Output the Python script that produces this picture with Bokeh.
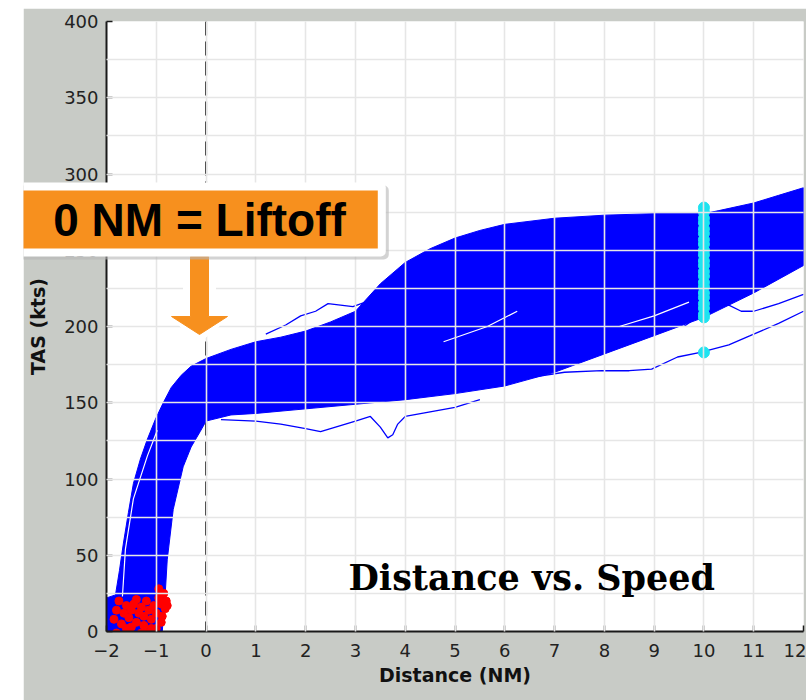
from bokeh.plotting import figure
from bokeh.models import (Span, Label, SingleIntervalTicker, Spacer, Range1d, GridBox)
from bokeh.layouts import row, column
from bokeh.embed import file_html
from bokeh.resources import INLINE

# ---------------- data ----------------
# envelope of the dense bundle of departure trajectories (Distance NM, TAS kts)
band_upper_dist = [-2.0, -1.82, -1.74, -1.66, -1.56, -1.46, -1.32, -1.18, -1.02, -0.86, -0.7, -0.5,
                   -0.3, 0.0, 0.5, 1.0, 1.5, 2.0, 2.5, 3.0, 3.5, 4.0, 4.5, 5.0, 5.5, 6.0, 7.0, 8.0,
                   9.0, 10.0, 10.3, 11.0, 11.5, 12.0]
band_upper_tas = [22, 24, 40, 58, 78, 97, 113, 126, 139, 150, 160, 168,
                  174, 179, 185, 190, 193, 197, 203, 210, 228, 242, 251, 258, 263, 267, 271, 273,
                  274, 274, 276, 281, 286, 291]
band_lower_dist = [-2.0, -0.88, -0.82, -0.78, -0.66, -0.46, -0.3, -0.12, 0.0, 0.5, 1.0, 2.0, 3.0,
                   4.0, 5.0, 6.0, 7.0, 8.0, 9.0, 10.0, 11.0, 12.0]
band_lower_tas = [0, 0, 25, 47, 80, 108, 121, 131, 138, 142, 143, 146, 149,
                  152, 156, 161, 170, 182, 194, 206, 222, 240]

# individual trajectories outside the bundle
traj_a_dist = [6.0, 6.6, 7.2, 7.95, 8.5, 8.95, 9.47, 9.93, 10.5, 10.93, 11.5, 12.0]
traj_a_tas = [163, 167, 170, 171, 171, 172, 180, 183, 188, 194, 202, 210]
traj_b_dist = [9.6, 10.1, 10.5, 10.75, 11.0, 11.5, 12.0]
traj_b_tas = [200, 212, 214, 210, 210, 215, 221]
traj_c_dist = [0.3, 1.0, 1.5, 2.0, 2.3, 2.6, 3.0, 3.3, 3.5, 3.65, 3.75, 3.85, 4.0, 4.5, 5.0, 5.5]
traj_c_tas = [139, 138, 136, 133, 131, 134, 138, 141, 134, 127, 129, 136, 141, 144, 147, 152]
traj_d_dist = [1.2, 1.6, 1.9, 2.2, 2.45, 2.7, 2.95, 3.2]
traj_d_tas = [195, 201, 207, 210, 215, 214, 213, 216]

# visible gaps inside the bundle
gap_1_dist = [4.77, 5.65, 6.25]
gap_1_tas = [190, 200, 210]
gap_2_dist = [8.3, 9.0, 9.7]
gap_2_tas = [200, 207, 216]
gap_3_dist = [-1.68, -1.62, -1.46, -1.18, -0.98]
gap_3_tas = [23, 54, 87, 115, 132]

# start-of-roll points (red)
roll_dist = [-1.85, -1.8, -1.75, -1.7, -1.65, -1.6, -1.55, -1.5, -1.45, -1.4, -1.35, -1.3,
             -1.25, -1.2, -1.15, -1.1, -1.05, -1.0, -0.95, -0.9, -0.88, -0.85, -0.82, -0.8,
             -0.78, -1.3, -1.2, -1.8, -1.0, -1.1, -1.5, -0.9, -1.4, -1.6, -1.25, -0.95]
roll_tas = [8, 14, 20, 5, 12, 17, 9, 14, 18, 6, 12, 16,
            10, 20, 14, 8, 17, 12, 22, 18, 10, 25, 15, 20,
            17, -1, -1, -1, 2, 2, 3, 6, 21, 2, 4, 28]

# speeds at the 10 NM check point (cyan)
check_dist = [10] * 23
check_tas = [278, 275, 271, 268, 264, 261, 257, 254, 250, 247, 243, 240, 236,
             233, 229, 226, 222, 219, 215, 212, 208, 206, 183]

x_tick_step = 1
y_tick_step = 50
y_grid_step = 25

# ---------------- layout ----------------
PAGE_LEFT, PAGE_TOP = 23, 8          # white strip left / above the gray panel
FIG_W, FIG_H = 783, 692
LEFT, RIGHT, TOP, BOTTOM = 83, 3, 13, 69
X0, X1 = -2.0, 12.0
FRAME_W = FIG_W - LEFT - RIGHT
FRAME_H = FIG_H - TOP - BOTTOM
PAGE_FRAME_LEFT = PAGE_LEFT + LEFT
PAGE_FRAME_BOTTOM = PAGE_TOP + TOP + FRAME_H


def px_x(px):
    return X0 + (px - PAGE_FRAME_LEFT) * (X1 - X0) / FRAME_W


def px_y(py):
    return (PAGE_FRAME_BOTTOM - py) * 400.0 / FRAME_H


GRAY = "#c8cbc6"
BLUE = "#0000ff"
ORANGE = "#f7901e"

p = figure(width=FIG_W, height=FIG_H, x_range=(X0, X1), y_range=(0, 400),
           output_backend="svg", toolbar_location=None,
           background_fill_color="white", border_fill_color=GRAY,
           outline_line_color=None,
           min_border_left=LEFT, min_border_right=RIGHT,
           min_border_top=TOP, min_border_bottom=BOTTOM)

# zero-distance (liftoff) reference line, under data
p.add_layout(Span(location=0, dimension="height", line_color="black",
                  line_dash="14 6", line_width=2, level="underlay"))

# bundle
p.patch(band_upper_dist + band_lower_dist[::-1], band_upper_tas + band_lower_tas[::-1],
        fill_color=BLUE, line_color=BLUE, line_width=1)
for xs, ys in [(traj_a_dist, traj_a_tas), (traj_b_dist, traj_b_tas),
               (traj_c_dist, traj_c_tas), (traj_d_dist, traj_d_tas)]:
    p.line(xs, ys, line_color=BLUE, line_width=1.3)
for xs, ys in [(gap_1_dist, gap_1_tas), (gap_2_dist, gap_2_tas), (gap_3_dist, gap_3_tas)]:
    p.line(xs, ys, line_color="white", line_width=1.2)

p.scatter(roll_dist, roll_tas, marker="circle", size=8, fill_color="#ff0000", line_color="#ff0000")
p.scatter(check_dist, check_tas, marker="circle", size=11, fill_color="#1ee3f0", line_color="#1ee3f0")

# axes / grid
p.xaxis.ticker = SingleIntervalTicker(interval=x_tick_step)
p.yaxis.ticker = SingleIntervalTicker(interval=y_tick_step)
p.xgrid.ticker = SingleIntervalTicker(interval=x_tick_step)
p.ygrid.ticker = SingleIntervalTicker(interval=y_grid_step)
for g in (p.xgrid, p.ygrid):
    g.grid_line_color = "#e6e6e6"
    g.grid_line_width = 1.6
    g.level = "annotation"

for ax in (p.xaxis, p.yaxis):
    ax.axis_line_color = "#1a1a1a"
    ax.axis_line_width = 2
    ax.major_tick_in = 6
    ax.major_tick_out = 0
    ax.major_tick_line_color = "#1a1a1a"
    ax.major_tick_line_width = 1.5
    ax.minor_tick_in = 0
    ax.minor_tick_out = 0
    ax.major_label_text_font = "DejaVu Sans"
    ax.major_label_text_font_size = "18px"
    ax.major_label_text_color = "#222222"
    ax.axis_label_text_font = "DejaVu Sans"
    ax.axis_label_text_font_size = "19px"
    ax.axis_label_text_font_style = "bold"
    ax.axis_label_text_color = "#111111"

p.xaxis.axis_label = "Distance (NM)"
p.yaxis.axis_label = "TAS (kts)"
p.xaxis.major_label_standoff = 12
p.yaxis.major_label_standoff = 8
p.xaxis.axis_label_standoff = 4
p.yaxis.axis_label_standoff = 12

p.add_layout(Label(x=px_x(348), y=px_y(577), text="Distance vs. Speed",
                   text_align="left", text_baseline="alphabetic",
                   text_font="DejaVu Serif", text_font_size="35px", text_font_style="bold",
                   text_color="black", level="overlay"))

# ---------------- callout: transparent overlay figure in pixel coordinates ----------------
ov = figure(width=FIG_W, height=FIG_H, x_range=Range1d(0, FIG_W), y_range=Range1d(FIG_H, 0),
            output_backend="svg", toolbar_location=None,
            x_axis_type=None, y_axis_type=None,
            min_border=0, min_border_left=0, min_border_right=0,
            min_border_top=0, min_border_bottom=0,
            background_fill_alpha=0, border_fill_alpha=0, outline_line_color=None)
ov.grid.visible = False


def ox(px):
    return px - PAGE_LEFT


def oy(py):
    return py - PAGE_TOP


BOX_CX, BOX_CY = 199, 219
CALLOUT = "0 NM = Liftoff"
common = dict(text=CALLOUT, text_align="center", text_baseline="middle",
              text_font="Liberation Sans", text_font_size="46px", text_font_style="bold")
ov.add_layout(Label(x=ox(BOX_CX + 3), y=oy(BOX_CY + 3), text_color="#b5b5b5",
                    background_fill_color="#b5b5b5", background_fill_alpha=0.6,
                    padding=dict(left=40, right=40, top=11, bottom=11), border_radius=5, **common))
ov.add_layout(Label(x=ox(BOX_CX), y=oy(BOX_CY), text_color="white",
                    background_fill_color="white",
                    padding=dict(left=40, right=40, top=11, bottom=11), border_radius=5, **common))
ov.add_layout(Label(x=ox(BOX_CX), y=oy(BOX_CY), text_color="black",
                    background_fill_color=ORANGE,
                    padding=dict(left=32, right=32, top=3, bottom=3), **common))

arrow_white_px = [(183, 256), (215, 256), (215, 310), (237, 310), (199, 342), (161, 310), (183, 310)]
arrow_orange_px = [(190, 256), (208, 256), (208, 316), (227, 316), (199, 334), (171, 316), (190, 316)]
for pts, col in [(arrow_white_px, "white"), (arrow_orange_px, ORANGE)]:
    ov.patch([ox(a) for a, b in pts], [oy(b) for a, b in pts],
             fill_color=col, line_color=col, line_width=1)

stack = GridBox(children=[(column(p), 0, 0), (column(ov), 0, 0)])
layout = column(Spacer(height=PAGE_TOP), row(Spacer(width=PAGE_LEFT), stack))
open("out.html", "w").write(file_html(layout, INLINE))
